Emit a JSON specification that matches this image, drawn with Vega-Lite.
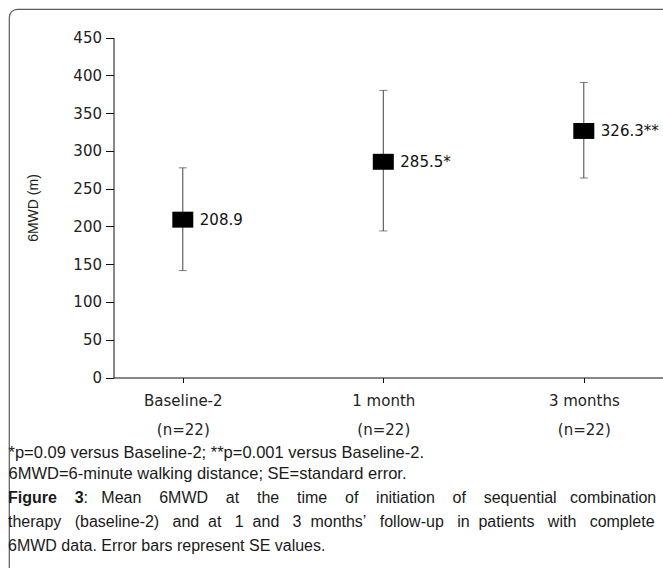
{
  "$schema": "https://vega.github.io/schema/vega-lite/v6.json",
  "autosize": "none",
  "width": 666,
  "height": 571,
  "padding": {"left": 9, "top": 9, "right": -12, "bottom": -12},
  "background": "white",
  "config": {
    "view": {"stroke": "#5a5a5a", "strokeWidth": 1.2, "cornerRadius": 8, "fill": "white"},
    "font": "Liberation Sans"
  },
  "title": {
    "text": "Figure\u00a0\u00a0\u00a0\u00a03",
    "subtitle": [
      "\u200b\u00a0\u00a0\u00a0\u00a0\u00a0\u00a0\u00a0\u00a0\u00a0\u00a0\u00a0\u00a0\u00a0\u00a0\u00a0\u00a0\u00a0:\u00a0\u00a0\u00a0Mean\u00a0\u00a0\u00a0\u00a06MWD\u00a0\u00a0\u00a0\u00a0at\u00a0\u00a0\u00a0\u00a0the\u00a0\u00a0\u00a0\u00a0time\u00a0\u00a0\u00a0\u00a0of\u00a0\u00a0\u00a0\u00a0initiation\u00a0\u00a0\u00a0\u00a0of\u00a0\u00a0\u00a0\u00a0sequential\u00a0\u00a0\u00a0combination",
      "therapy\u00a0\u00a0\u00a0(baseline-2)\u00a0\u00a0\u00a0and\u00a0\u00a0at\u00a0\u00a0\u00a01\u00a0\u00a0and\u00a0\u00a0\u00a03\u00a0\u00a0months\u2019\u00a0\u00a0\u00a0follow-up\u00a0\u00a0\u00a0in\u00a0\u00a0patients\u00a0\u00a0\u00a0with\u00a0\u00a0\u00a0complete",
      "6MWD data. Error bars represent SE values."
    ],
    "orient": "bottom",
    "anchor": "start",
    "frame": "group",
    "offset": -90,
    "dx": -1,
    "font": "Liberation Sans",
    "fontSize": 16,
    "fontWeight": "bold",
    "color": "#1a1a1a",
    "subtitleFont": "Liberation Sans",
    "subtitleFontSize": 16,
    "subtitleFontWeight": "normal",
    "subtitleColor": "#1a1a1a",
    "subtitleLineHeight": 24,
    "subtitlePadding": -16
  },
  "data": {
    "values": [
      {"time": "Baseline-2", "mean": 208.9, "lo": 141.5, "hi": 277.5, "label": "208.9"},
      {"time": "1 month", "mean": 285.5, "lo": 194, "hi": 380, "label": "285.5*"},
      {"time": "3 months", "mean": 326.3, "lo": 264, "hi": 390.5, "label": "326.3**"}
    ]
  },
  "encoding": {
    "x": {
      "field": "time",
      "type": "nominal",
      "sort": null,
      "scale": {"type": "point", "range": [104.5, 654], "padding": 0.3703, "align": 0.4667},
      "axis": {
        "orient": "bottom",
        "offset": -202.5,
        "labelAngle": 0,
        "labelExpr": "[datum.label, '(n=22)']",
        "labelFont": "DejaVu Sans",
        "labelFontSize": 15,
        "labelLineHeight": 29,
        "labelColor": "#222222",
        "labelPadding": 11,
        "tickSize": 5,
        "tickColor": "#111111",
        "domainColor": "#111111",
        "grid": false,
        "title": ["*p=0.09 versus Baseline-2; **p=0.001 versus Baseline-2.", "6MWD=6-minute walking distance; SE=standard error."],
        "titleFont": "Liberation Sans",
        "titleFontSize": 16.5,
        "titleFontWeight": "normal",
        "titleColor": "#1a1a1a",
        "titleLineHeight": 21,
        "titleAlign": "left",
        "titleBaseline": "top",
        "titleX": -1,
        "titleY": 67
      }
    }
  },
  "layer": [
    {
      "mark": {"type": "rule", "color": "#444444", "strokeWidth": 1},
      "encoding": {
        "y": {
          "field": "lo",
          "type": "quantitative",
          "scale": {"domain": [0, 450], "range": [368.5, 28.5], "nice": false, "zero": true},
          "axis": {
            "orient": "left",
            "offset": -104.5,
            "values": [0, 50, 100, 150, 200, 250, 300, 350, 400, 450],
            "labelFont": "DejaVu Sans",
            "labelFontSize": 15,
            "labelColor": "#222222",
            "labelPadding": 4,
            "tickSize": 8,
            "tickColor": "#111111",
            "domainColor": "#111111",
            "grid": false,
            "title": "6MWD (m)",
            "titleFont": "Liberation Sans",
            "titleFontSize": 14,
            "titleFontWeight": "normal",
            "titleColor": "#222222",
            "titlePadding": 32
          }
        },
        "y2": {"field": "hi"}
      }
    },
    {
      "mark": {"type": "tick", "color": "#444444", "size": 8, "thickness": 1},
      "encoding": {"y": {"field": "lo", "type": "quantitative"}}
    },
    {
      "mark": {"type": "tick", "color": "#444444", "size": 8, "thickness": 1},
      "encoding": {"y": {"field": "hi", "type": "quantitative"}}
    },
    {
      "mark": {"type": "point", "shape": "M-1,-0.76H1V0.76H-1Z", "size": 441, "filled": true, "color": "#000000", "opacity": 1},
      "encoding": {"y": {"field": "mean", "type": "quantitative"}}
    },
    {
      "mark": {"type": "text", "align": "left", "baseline": "middle", "dx": 17, "font": "DejaVu Sans", "fontSize": 15, "color": "#111111"},
      "encoding": {
        "y": {"field": "mean", "type": "quantitative"},
        "text": {"field": "label"}
      }
    }
  ]
}
